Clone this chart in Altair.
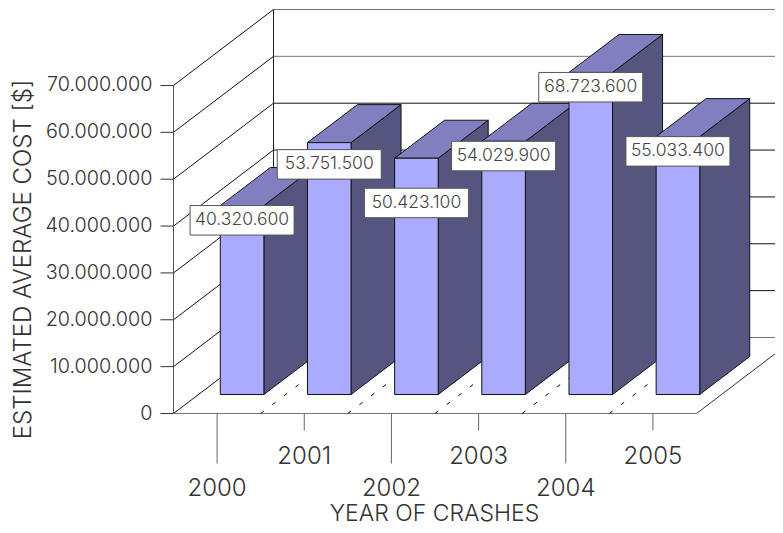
import altair as alt
import pandas as pd

years = ["2000", "2001", "2002", "2003", "2004", "2005"]
costs = [40320600, 53751500, 50423100, 54029900, 68723600, 55033400]
y_ticks = [0, 10000000, 20000000, 30000000, 40000000, 50000000, 60000000, 70000000]
y_title = "ESTIMATED AVERAGE COST [$]"
x_title = "YEAR OF CRASHES"

# ---- layout and projection ----
W, H = 767, 517
PX_PER_CAT = 87.17
PX_PER_USD = 46.86e-7
ORIGIN_X, ORIGIN_Y = 165.5, 405.5      # where category 0 / cost 0 fall in the plot
DEPTH_X = 100 / PX_PER_CAT             # full floor depth in category units
DEPTH_Y = 76 / PX_PER_USD              # full floor depth in cost units
N = len(years)
FONT = "Inter"
WEIGHT = 300
TXT = "#333333"


def px(n):
    return n / PX_PER_CAT


def py(n):
    return n / PX_PER_USD


def dots(v):
    return f"{v:,}".replace(",", ".")


xs = alt.Scale(domain=[-ORIGIN_X / PX_PER_CAT, (W - ORIGIN_X) / PX_PER_CAT], range=[0, W], nice=False, zero=False)
ys = alt.Scale(domain=[(ORIGIN_Y - H) / PX_PER_USD, ORIGIN_Y / PX_PER_USD], range=[H, 0], nice=False, zero=False)
X = lambda f="x": alt.X(f"{f}:Q", scale=xs, axis=None)
Y = lambda f="y": alt.Y(f"{f}:Q", scale=ys, axis=None)
X2 = alt.X2("x2:Q")
Y2 = alt.Y2("y2:Q")


def segs(rows, color, width=1, dash=None):
    df = pd.DataFrame(rows, columns=["x", "y", "x2", "y2"])
    kw = dict(color=color, strokeWidth=width)
    if dash:
        kw["strokeDash"] = dash
    return alt.Chart(df).mark_rule(**kw).encode(x=X(), y=Y(), x2=X2, y2=Y2)


def texts(rows, size, color=TXT, **kw):
    df = pd.DataFrame(rows, columns=["x", "y", "t"])
    return alt.Chart(df).mark_text(font=FONT, fontWeight=WEIGHT, fontSize=size, color=color, **kw).encode(
        x=X(), y=Y(), text="t:N")


layers = []

# back wall gridlines
right = N + DEPTH_X
gray_back = [60000000, 70000000, 0]
layers.append(segs([[DEPTH_X, v + DEPTH_Y, right, v + DEPTH_Y] for v in y_ticks if v in gray_back], "#777777"))
layers.append(segs([[DEPTH_X, v + DEPTH_Y, right, v + DEPTH_Y] for v in y_ticks if v not in gray_back], "#111111"))
# left wall diagonals, back-wall vertical
layers.append(segs([[0, v, DEPTH_X, v + DEPTH_Y] for v in y_ticks], "#111111"))
layers.append(segs([[DEPTH_X, DEPTH_Y, DEPTH_X, max(y_ticks) + DEPTH_Y]], "#222222"))
# front left vertical, ticks, floor
layers.append(segs([[0, 0, 0, max(y_ticks)]], "#555555"))
layers.append(segs([[px(-13), v, 0, v] for v in y_ticks], "#333333"))
layers.append(segs([[0, 0, N, 0]], "#777777"))
layers.append(segs([[N, 0, N + DEPTH_X, DEPTH_Y]], "#333333"))
# floor dashes at category boundaries
layers.append(segs([[k, 0, k + DEPTH_X, DEPTH_Y] for k in range(1, N)], "#000000", 1, [4, 10.6]))
# x ticks
layers.append(segs([[i + 0.5, 0, i + 0.5, py(-50 if i % 2 == 0 else -17)] for i in range(N)], "#666666"))

# bars, painted left to right
FRONT, TOP, SIDE = "#AAAAFF", "#8080C0", "#555580"
for i, v in enumerate(costs):
    c0, c1 = i + 0.25, i + 0.75
    z0, z1 = 0.25, 0.75
    side = pd.DataFrame({
        "x": [c1 + z0 * DEPTH_X, c1 + z1 * DEPTH_X],
        "y": [z0 * DEPTH_Y, z1 * DEPTH_Y],
        "y2": [v + z0 * DEPTH_Y, v + z1 * DEPTH_Y],
    })
    layers.append(alt.Chart(side).mark_area(color=SIDE, stroke="#111111", strokeWidth=1, opacity=1).encode(
        x=X(), y=Y(), y2=Y2))
    top = pd.DataFrame({
        "y": [v + z0 * DEPTH_Y, v + z1 * DEPTH_Y],
        "x": [c0 + z0 * DEPTH_X, c0 + z1 * DEPTH_X],
        "x2": [c1 + z0 * DEPTH_X, c1 + z1 * DEPTH_X],
    })
    layers.append(alt.Chart(top).mark_area(color=TOP, stroke="#111111", strokeWidth=1, orient="horizontal",
                                           opacity=1).encode(x=X(), x2=X2, y=Y()))
    front = pd.DataFrame({
        "x": [c0 + z0 * DEPTH_X], "x2": [c1 + z0 * DEPTH_X],
        "y": [z0 * DEPTH_Y], "y2": [v + z0 * DEPTH_Y],
    })
    layers.append(alt.Chart(front).mark_rect(color=FRONT, stroke="#111111", strokeWidth=1).encode(
        x=X(), x2=X2, y=Y(), y2=Y2))

# value label boxes (some nudged down to avoid neighbours)
nudge_px = [0, 7, 30, 0, 0, 0]
BOX_W, BOX_H = 104, 29.5
boxes = []
labels = []
for i, v in enumerate(costs):
    cx = i + 0.5 + 0.25 * DEPTH_X
    top_y = v + 0.25 * DEPTH_Y - py(nudge_px[i])
    boxes.append([cx - px(BOX_W / 2), top_y, cx + px(BOX_W / 2), top_y - py(BOX_H)])
    labels.append([cx, top_y - py(BOX_H / 2), dots(v)])
layers.append(alt.Chart(pd.DataFrame(boxes, columns=["x", "y", "x2", "y2"])).mark_rect(
    color="#FFFFFF", stroke="#555555", strokeWidth=1).encode(x=X(), x2=X2, y=Y(), y2=Y2))
layers.append(texts(labels, 17.5, color="#444444", align="center", baseline="middle"))

# axis texts
layers.append(texts([[px(-21), v, dots(v) if v else "0"] for v in y_ticks], 19.8, align="right", baseline="middle"))
layers.append(texts([[i + 0.5, py(-75 if i % 2 == 0 else -43), y] for i, y in enumerate(years)], 24,
                    align="center", baseline="middle"))
layers.append(texts([[px(261), py(-100), x_title]], 23, align="center", baseline="middle"))
layers.append(texts([[px(-150), py(154), y_title]], 24, align="center", baseline="middle", angle=270))

chart = alt.layer(*layers).properties(width=W, height=H, padding=0, autosize=alt.AutoSizeParams(type="none")).configure_view(stroke=None)
chart.save("out.html", embed_options={"renderer": "svg", "actions": False})
